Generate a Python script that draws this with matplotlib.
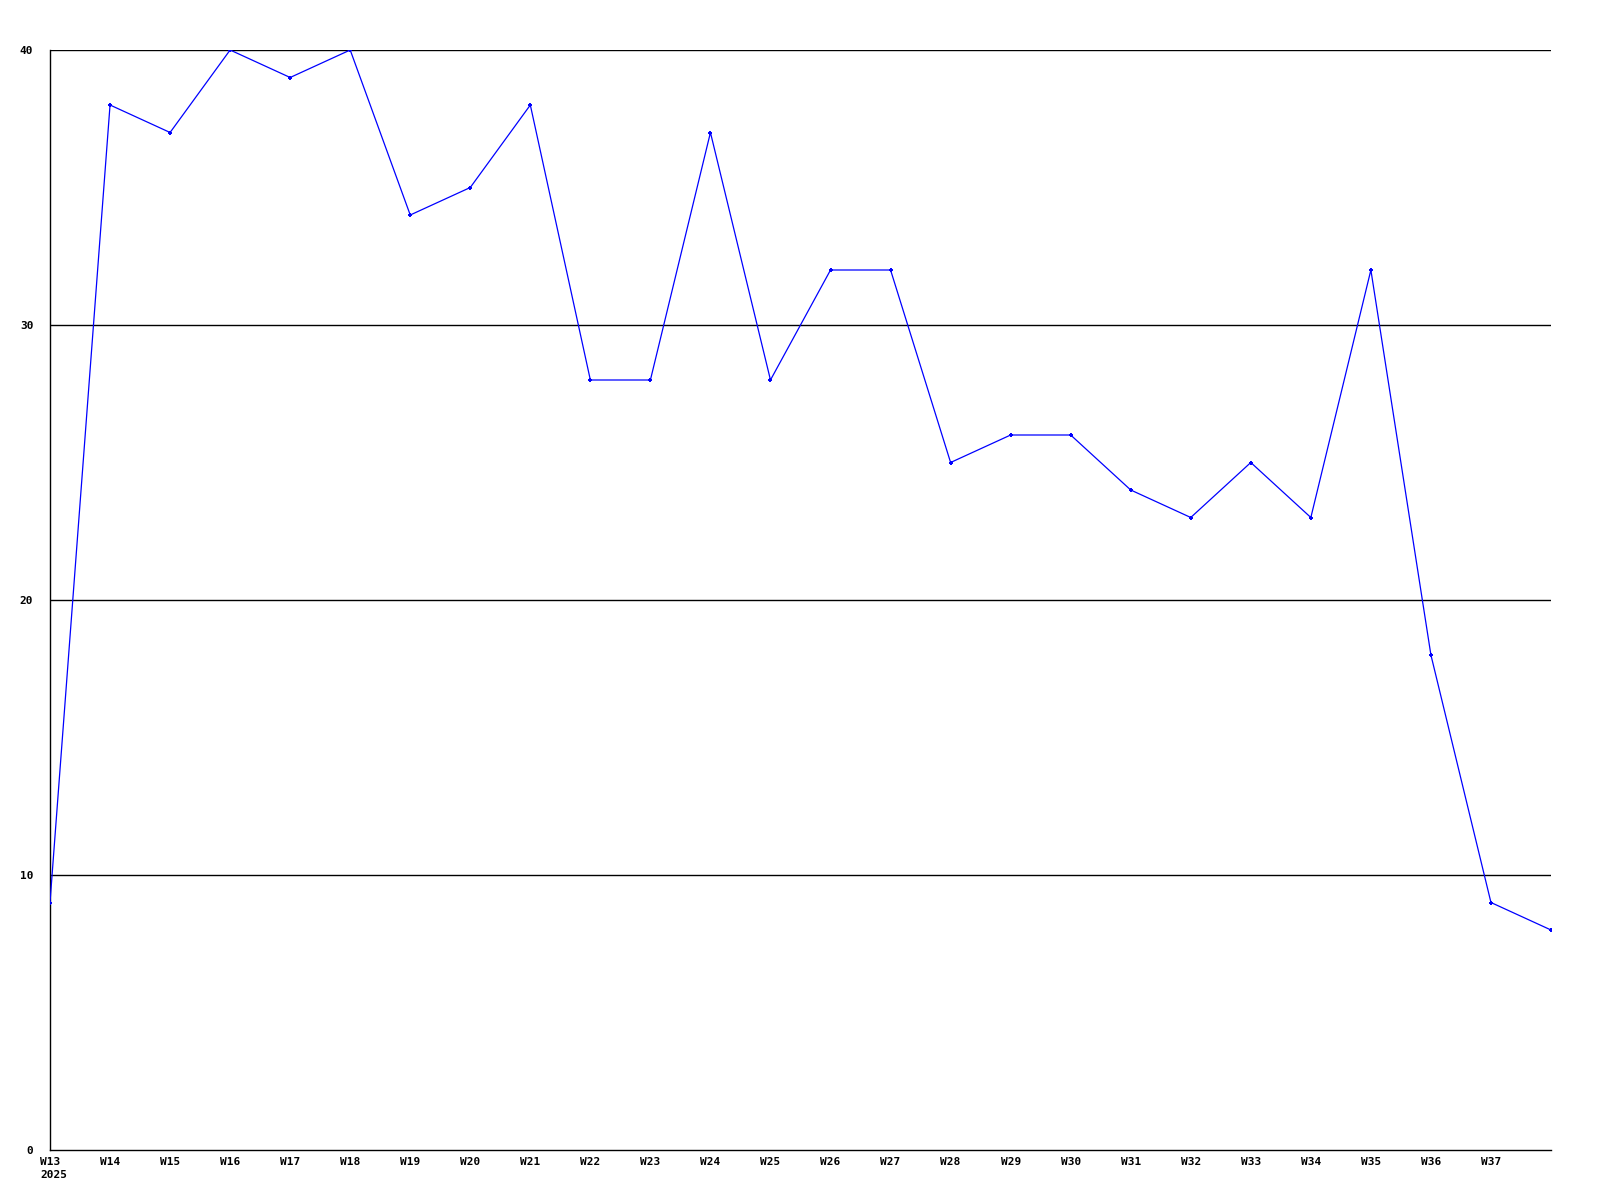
import matplotlib
matplotlib.use("Agg")
import matplotlib.pyplot as plt
from matplotlib.transforms import blended_transform_factory, offset_copy

weeks = ["W13", "W14", "W15", "W16", "W17", "W18", "W19", "W20", "W21", "W22",
         "W23", "W24", "W25", "W26", "W27", "W28", "W29", "W30", "W31", "W32",
         "W33", "W34", "W35", "W36", "W37", "W38"]
values = [9, 38, 37, 40, 39, 40, 34, 35, 38, 28,
          28, 37, 28, 32, 32, 25, 26, 26, 24, 23,
          25, 23, 32, 18, 9, 8]
y_ticks = [0, 10, 20, 30, 40]
year = "2025"

fig = plt.figure(figsize=(16, 12), dpi=100)
ax = fig.add_axes([50 / 1600, 1 - 1150 / 1200, 1501 / 1600, 1100 / 1200])

x = list(range(len(weeks)))
ax.plot(x, values, color="#0000ff", linewidth=0.9, marker="+", markersize=3.5,
        markeredgewidth=1.4, zorder=3)

ax.set_xlim(0, len(weeks) - 1)
ax.set_ylim(0, 40)

for y in y_ticks[1:]:
    ax.axhline(y, color="black", linewidth=1.0, zorder=1)

# labels for every week but the last one
ax.set_xticks(x[:-1])
ax.set_xticklabels(weeks[:-1], fontfamily="DejaVu Sans Mono", fontweight="bold",
                   fontsize=8)
ax.set_yticks(y_ticks)
ax.set_yticklabels([str(v) for v in y_ticks], fontfamily="DejaVu Sans Mono",
                   fontweight="bold", fontsize=8)
ax.tick_params(axis="both", length=0)
ax.tick_params(axis="y", pad=12)
ax.tick_params(axis="x", pad=5)

# year under the first week label, left aligned with it
trans = blended_transform_factory(ax.transData, ax.transAxes)
trans = offset_copy(trans, fig=fig, x=-10, y=-20, units="dots")
ax.text(0, 0, year, transform=trans, ha="left", va="top",
        fontfamily="DejaVu Sans Mono", fontweight="bold", fontsize=8)

ax.spines["top"].set_visible(False)
ax.spines["right"].set_visible(False)
ax.spines["left"].set_linewidth(1.0)
ax.spines["bottom"].set_linewidth(1.0)

fig.savefig("out.png", dpi=100, facecolor="white")
